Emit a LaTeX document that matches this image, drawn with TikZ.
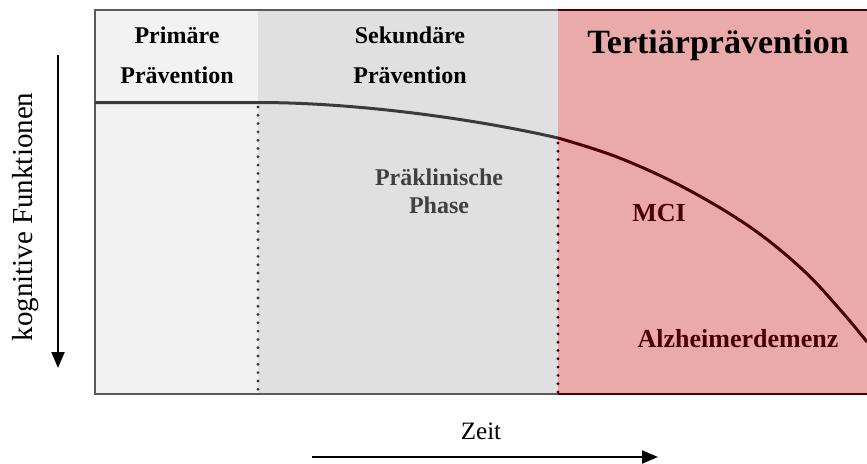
\documentclass[tikz,border=0pt]{standalone}
\usepackage{fontspec}
\setmainfont{Liberation Serif}
\usepackage{xcolor}
\usepackage{tikz}
\usetikzlibrary{arrows.meta,positioning}
\definecolor{primgray}{RGB}{242, 242, 242}
\definecolor{sekgray}{RGB}{224, 224, 224}
\definecolor{tertrose}{RGB}{234, 170, 170}
\definecolor{darkred}{RGB}{75, 0, 0}
\definecolor{curvegray}{RGB}{58, 58, 58}
\definecolor{framegray}{RGB}{90, 90, 90}
\definecolor{textgray}{RGB}{64, 64, 64}

\begin{document}
\begin{tikzpicture}[x=1pt, y=-1pt, every node/.style={font=\fontsize{24}{40}\selectfont\bfseries, align=center, inner sep=0pt}]
    \useasboundingbox (0,0) rectangle (867,463);

    % Phase 1-3: Hintergruende
    \fill[primgray] (95,10) rectangle (258,394);
    \fill[sekgray] (258,10) rectangle (558,394);
    \fill[tertrose] (558,10) rectangle (867,394);

    % Rahmen
    \draw[framegray, line width=1.5pt] (558,10) -- (95,10) -- (95,394) -- (558,394);
    \draw[darkred, line width=1.5pt] (558,10) -- (867,10);
    \draw[darkred, line width=1.5pt] (558,394) -- (867,394);

    % Phasengrenzen (gepunktet)
    \draw[curvegray, line width=3.2pt, line cap=round, dash pattern=on 0pt off 8.3pt] (258,107) -- (258,394);
    \draw[darkred, line width=3.2pt, line cap=round, dash pattern=on 0pt off 8.3pt] (558,143) -- (558,394);

    % Verlauf der kognitiven Funktionen
    \draw[curvegray, line width=3pt] (95,102.5) -- (258,102.5) .. controls (360,102.5) and (480,120) .. (558,138);
    \draw[darkred, line width=3pt] plot[smooth, tension=0.6] coordinates {(558,138) (617,157) (683,187) (750,227) (803,270) (843,313) (867,342)};

    % Beschriftung der Phasen
    \node (primaer) at (177,55) {Primäre\\Prävention};
    \node (sekundaer) at (410,55) {Sekundäre\\Prävention};
    \node[font=\fontsize{34}{40}\selectfont\bfseries, anchor=base] (tertiaer) at (718,53) {Tertiärprävention};
    \node[text=textgray, font=\fontsize{24}{28}\selectfont\bfseries] (praeklin) at (439,191) {Präklinische\\Phase};
    \node[text=darkred, font=\fontsize{26}{30}\selectfont\bfseries, anchor=base] (mci) at (659,221) {MCI};
    \node[text=darkred, font=\fontsize{26}{30}\selectfont\bfseries, anchor=base] (alzheimer) at (738,347) {Alzheimerdemenz};

    % Achsen
    \node[font=\fontsize{29}{34}\selectfont, rotate=90] (kognitiv) at (26,217) {kognitive Funktionen};
    \node[font=\fontsize{25}{30}\selectfont, anchor=base] (zeit) at (481,439) {Zeit};
    \coordinate (kog_oben) at (58,55);
    \coordinate (kog_unten) at (58,368);
    \coordinate (zeit_links) at (312,457);
    \coordinate (zeit_rechts) at (658,457);
    \draw[-{Triangle[length=16pt, width=13pt]}, line width=2pt] (kog_oben) -- (kog_unten);
    \draw[-{Triangle[length=16pt, width=13pt]}, line width=2pt] (zeit_links) -- (zeit_rechts);
\end{tikzpicture}
\end{document}
